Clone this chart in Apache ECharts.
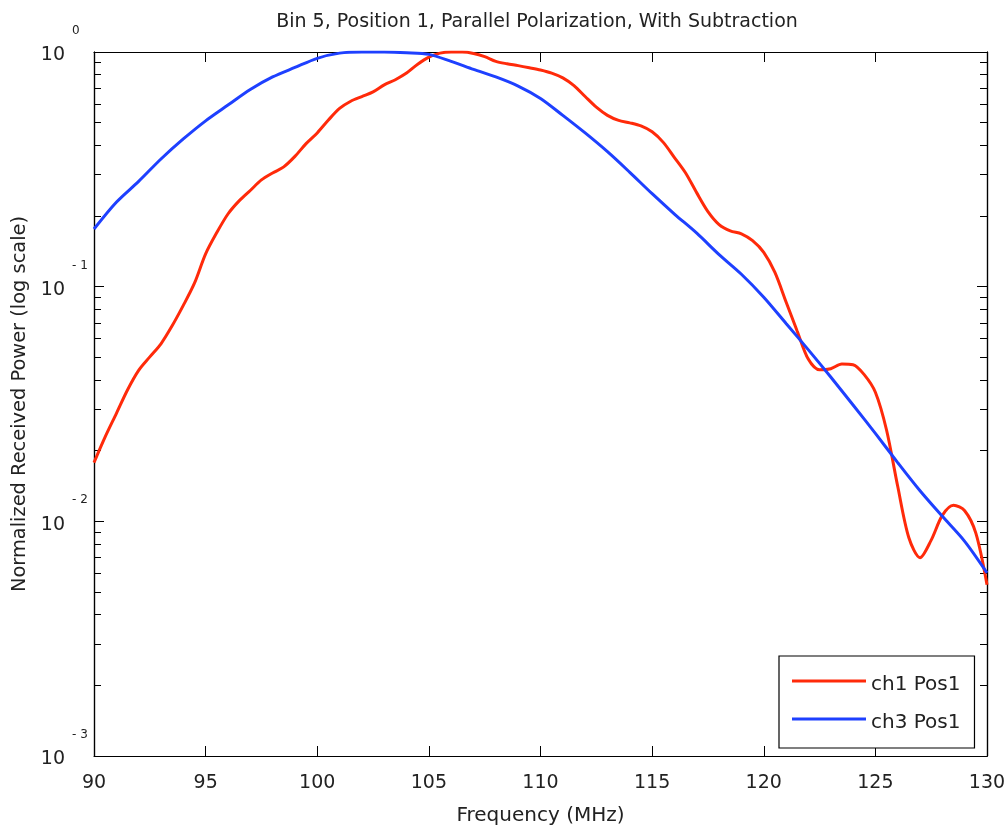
<!DOCTYPE html>
<html>
<head>
<meta charset="utf-8">
<script src="https://cdn.jsdelivr.net/npm/echarts@6/dist/echarts.min.js"></script>
<style>
  html, body { margin: 0; padding: 0; background: #fff; }
  #chart { width: 1008px; height: 831px; }
</style>
</head>
<body>
<div id="chart"></div>
<script>
// Frequency sweep (MHz) and normalized received power, channel 1 (0.5 MHz steps)
const freqCh1 = [
  90, 90.5, 91, 91.5, 92, 92.5, 93, 93.5, 94, 94.5,
  95, 95.5, 96, 96.5, 97, 97.5, 98, 98.5, 99, 99.5,
  100, 100.5, 101, 101.5, 102, 102.5, 103, 103.5, 104, 104.5,
  105, 105.5, 106, 106.5, 107, 107.5, 108, 108.5, 109, 109.5,
  110, 110.5, 111, 111.5, 112, 112.5, 113, 113.5, 114, 114.5,
  115, 115.5, 116, 116.5, 117, 117.5, 118, 118.5, 119, 119.5,
  120, 120.5, 121, 121.5, 122, 122.5, 123, 123.5, 124, 124.5,
  125, 125.5, 126, 126.5, 127, 127.5, 128, 128.5, 129, 129.5, 130
];
const powerCh1 = [
  0.0178, 0.0229, 0.0288, 0.0363, 0.0440, 0.0502, 0.0571, 0.0681, 0.0832, 0.1035,
  0.138, 0.170, 0.204, 0.232, 0.257, 0.285, 0.305, 0.324, 0.359, 0.407,
  0.452, 0.513, 0.575, 0.617, 0.646, 0.676, 0.724, 0.762, 0.813, 0.887,
  0.951, 0.989, 1.0, 1.0, 0.986, 0.955, 0.912, 0.891, 0.875, 0.857,
  0.838, 0.813, 0.776, 0.719, 0.646, 0.582, 0.537, 0.511, 0.499, 0.484,
  0.457, 0.412, 0.355, 0.305, 0.251, 0.209, 0.184, 0.173, 0.168, 0.157,
  0.140, 0.115, 0.0861, 0.0646, 0.0490, 0.0442, 0.0447, 0.0468, 0.0465, 0.0422,
  0.0355, 0.0245, 0.0141, 0.00851, 0.00700, 0.00832, 0.0106, 0.0117, 0.0111, 0.00891, 0.00537
];

// Channel 3 (1 MHz steps)
const freqCh3 = [
  90, 91, 92, 93, 94, 95, 96, 97, 98, 99,
  100, 101, 102, 103, 104, 105, 106, 107, 108, 109,
  110, 111, 112, 113, 114, 115, 116, 117, 118, 119,
  120, 121, 122, 123, 124, 125, 126, 127, 128, 129, 130
];
const powerCh3 = [
  0.176, 0.229, 0.281, 0.350, 0.426, 0.509, 0.594, 0.692, 0.783, 0.859,
  0.940, 0.989, 1.0, 1.0, 0.993, 0.977, 0.912, 0.843, 0.783, 0.716,
  0.634, 0.537, 0.452, 0.376, 0.307, 0.249, 0.204, 0.169, 0.137, 0.113,
  0.0902, 0.0697, 0.0538, 0.0412, 0.0313, 0.0237, 0.0178, 0.0135, 0.0105, 0.00822, 0.00603
];

const seriesNames = ['ch1 Pos1', 'ch3 Pos1'];
const titleText = 'Bin 5, Position 1, Parallel Polarization, With Subtraction';
const xName = 'Frequency (MHz)';
const yName = 'Normalized Received Power (log scale)';
const xTickStep = 5;
const yDecades = [0.001, 0.01, 0.1, 1];
// minor log ticks 2..9 within each decade
const yMinorTicks = [];
for (let d = 0; d < yDecades.length - 1; d++) {
  for (let k = 2; k <= 9; k++) yMinorTicks.push(+(k * yDecades[d]).toPrecision(3));
}

const FONT = 'DejaVu Sans, Liberation Sans, sans-serif';
const TXT = '#222';
const RED = '#ff2a0a';
const BLUE = '#1e40ff';

const chart = echarts.init(document.getElementById('chart'), null, { renderer: 'canvas' });

const logAxisBase = {
  type: 'log', logBase: 10, min: 0.001, max: 1,
  splitLine: { show: false },
  axisLine: { show: true, lineStyle: { color: '#000', width: 1.2 } },
  minorTick: { show: false }
};

// exponent of a decade tick, e.g. 0.01 -> "- 2"
const decadeExp = v => {
  const e = Math.round(Math.log10(v));
  return e < 0 ? '- ' + (-e) : String(e);
};

const option = {
  backgroundColor: '#fff',
  animation: false,
  title: {
    text: titleText,
    left: 532, top: 8, textAlign: 'center',
    textStyle: { fontFamily: FONT, fontSize: 19, fontWeight: 'normal', color: TXT }
  },
  legend: {
    orient: 'vertical',
    left: 779, top: 656,
    padding: [19, 14, 15, 13],
    itemGap: 18,
    itemWidth: 74, itemHeight: 15,
    symbolKeepAspect: false,
    icon: 'path://M0,0 M0,2 L74,2 L74,5 L0,5 Z M0,15',
    borderColor: '#000', borderWidth: 1.2,
    backgroundColor: '#fff',
    data: seriesNames,
    textStyle: { fontFamily: FONT, fontSize: 20, lineHeight: 20, color: TXT }
  },
  grid: { left: 94, right: 21, top: 52, bottom: 75, containLabel: false, outerBoundsMode: 'none' },
  xAxis: [
    {
      type: 'value', min: 90, max: 130, interval: xTickStep,
      position: 'bottom',
      name: xName, nameLocation: 'middle', nameGap: 50,
      nameTextStyle: { fontFamily: FONT, fontSize: 20, color: TXT },
      axisLine: { show: true, onZero: false, lineStyle: { color: '#000', width: 1.2 } },
      axisTick: { show: true, inside: true, length: 10, lineStyle: { color: '#000' } },
      axisLabel: { margin: 18, fontFamily: FONT, fontSize: 19, color: TXT },
      splitLine: { show: false }
    },
    {
      type: 'value', min: 90, max: 130, interval: xTickStep,
      position: 'top',
      axisLine: { show: true, onZero: false, lineStyle: { color: '#000', width: 1.2 } },
      axisTick: { show: true, inside: true, length: 10, lineStyle: { color: '#000' } },
      axisLabel: { show: false },
      splitLine: { show: false }
    }
  ],
  yAxis: [
    // left: decade ticks, "10" mantissa labels and axis title
    Object.assign({}, logAxisBase, {
      position: 'left',
      name: yName, nameLocation: 'middle', nameGap: 63, nameRotate: 90,
      nameTextStyle: { fontFamily: FONT, fontSize: 19.4, color: TXT },
      axisTick: { show: true, inside: true, length: 10, lineStyle: { color: '#000' } },
      axisLabel: {
        margin: 29, fontFamily: FONT, fontSize: 19, color: TXT,
        formatter: () => '10',
        verticalAlign: 'top', lineHeight: 7
      }
    }),
    // left: minor ticks and superscript exponents
    Object.assign({}, logAxisBase, {
      position: 'left',
      axisTick: { show: true, inside: true, length: 7, customValues: yMinorTicks, lineStyle: { color: '#000' } },
      axisLabel: {
        margin: 22, align: 'left', verticalAlign: 'bottom', lineHeight: 42,
        fontFamily: FONT, fontSize: 12, color: TXT,
        formatter: decadeExp
      }
    }),
    Object.assign({}, logAxisBase, {
      position: 'right',
      axisTick: { show: true, inside: true, length: 10, lineStyle: { color: '#000' } },
      axisLabel: { show: false }
    }),
    Object.assign({}, logAxisBase, {
      position: 'right',
      axisTick: { show: true, inside: true, length: 7, customValues: yMinorTicks, lineStyle: { color: '#000' } },
      axisLabel: { show: false }
    })
  ],
  series: [
    {
      name: seriesNames[0], type: 'line', xAxisIndex: 0, yAxisIndex: 0,
      data: freqCh1.map((f, i) => [f, powerCh1[i]]),
      showSymbol: false, symbol: 'none', smooth: 0.3,
      lineStyle: { color: RED, width: 3 }, itemStyle: { color: RED },
      z: 3
    },
    {
      name: seriesNames[1], type: 'line', xAxisIndex: 0, yAxisIndex: 0,
      data: freqCh3.map((f, i) => [f, powerCh3[i]]),
      showSymbol: false, symbol: 'none', smooth: 0.3,
      lineStyle: { color: BLUE, width: 3 }, itemStyle: { color: BLUE },
      z: 4
    }
  ]
};

chart.setOption(option);
</script>
</body>
</html>
